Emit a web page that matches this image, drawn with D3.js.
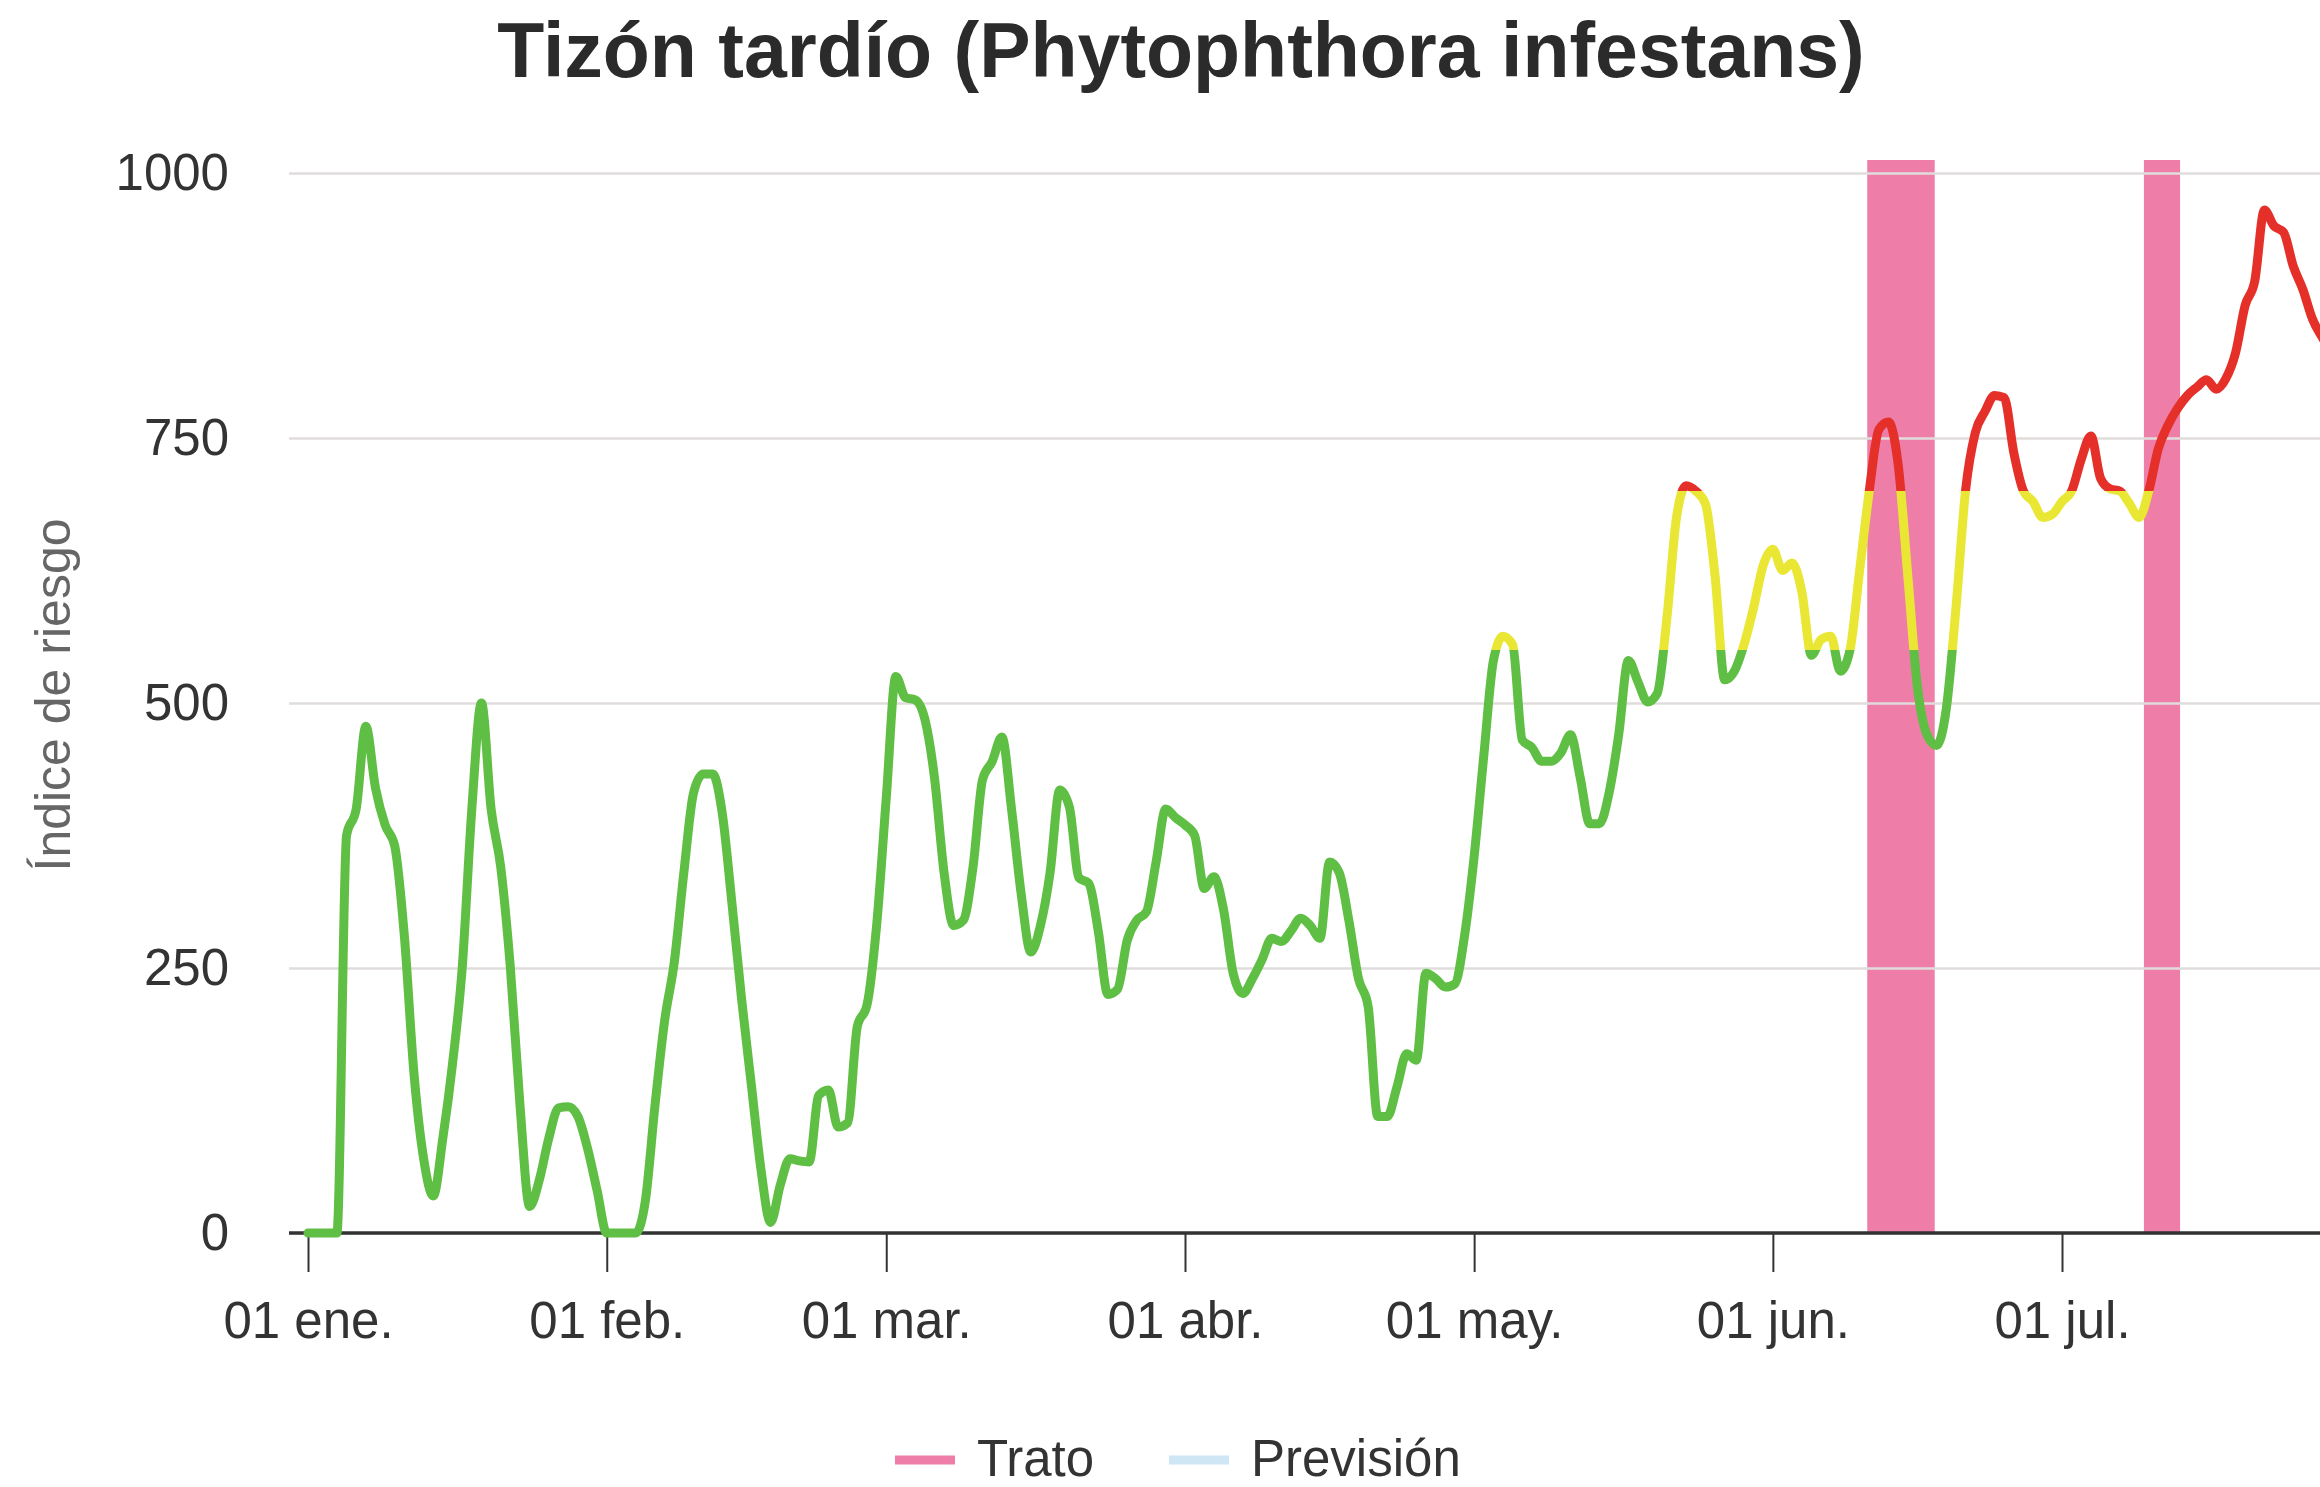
<!DOCTYPE html>
<html>
<head>
<meta charset="utf-8">
<script src="https://cdn.jsdelivr.net/npm/d3@7"></script>
<style>
  html, body { margin: 0; padding: 0; background: #fff; }
  svg { display: block; font-family: "Liberation Sans", Arial, sans-serif; }
</style>
</head>
<body>
<div id="main"></div>
<script>
// data (one value per day from 01 ene. 2024)
const startDate = '2024-01-01';
const riskIndex = [
  0, 0, 0, 0, 375, 400, 478, 420, 385, 365,
  280, 150, 70, 35, 90, 160, 250, 400, 500, 400,
  345, 250, 120, 25, 50, 90, 118, 119, 110, 80,
  40, 0, 0, 0, 0, 30, 120, 200, 255, 340,
  415, 433, 433, 395, 310, 220, 140, 60, 10, 45,
  70, 68, 67, 130, 135, 100, 104, 195, 215, 290,
  410, 525, 505, 503, 485, 430, 340, 290, 295, 345,
  428, 445, 468, 400, 320, 265, 290, 340, 418, 402,
  335, 330, 285, 225, 230, 276, 295, 303, 350, 400,
  392, 385, 375, 325, 336, 305, 245, 226, 240, 258,
  278, 275, 285, 297, 290, 278, 350, 340, 295, 240,
  214, 110, 110, 138, 169, 163, 245, 240, 232, 235,
  280, 355, 450, 540, 563, 555, 465, 458, 445, 445,
  453, 470, 430, 386, 386, 415, 470, 540, 520, 501,
  509, 580, 675, 705, 700, 688, 620, 522, 530, 555,
  590, 630, 645, 625, 632, 605, 545, 560, 563, 530,
  550, 625, 700, 758, 765, 725, 620, 515, 470, 460,
  495, 590, 701, 755, 775, 790, 788, 736, 700, 690,
  675, 678, 690, 700, 730, 752, 712, 702, 700, 688,
  675, 700, 740, 762, 778, 790, 798, 805, 796, 806,
  830, 875, 898, 965, 950, 944, 912, 890, 862, 845,
  830
];
const treatmentStart = ['2024-06-10 19:00', '2024-07-09 12:00'];
const treatmentEnd = ['2024-06-17 19:00', '2024-07-13 06:00'];
const yTicks = [0, 250, 500, 750, 1000];
const xTickStart = '2024-01-01';
const xTickEnd = '2024-08-01';
const shortMonths = ['ene.', 'feb.', 'mar.', 'abr.', 'may.', 'jun.', 'jul.', 'ago.', 'sep.', 'oct.', 'nov.', 'dic.'];
const zoneLimits = [550, 700];
const zoneColors = ['#5fbe44', '#e9e733', '#e5302a'];
const legendNames = ['Trato', 'Previsión'];
const legendColors = ['#ee7ea7', '#cfe6f4'];

// layout
const width = 2320;
const height = 1487;
const plot = { left: 289, right: 2330, top: 160, bottom: 1233 };
const fontSize = 51;

const parseDay = d3.timeParse('%Y-%m-%d');
const parseTime = d3.timeParse('%Y-%m-%d %H:%M');
const day0 = parseDay(startDate);
const series = riskIndex.map((v, i) => ({ date: d3.timeDay.offset(day0, i), value: v }));
const treatments = treatmentStart.map((s, i) => ({ start: parseTime(s), end: parseTime(treatmentEnd[i]) }));

const locale = d3.timeFormatLocale({
  dateTime: '%x, %X', date: '%d/%m/%Y', time: '%H:%M:%S', periods: ['AM', 'PM'],
  days: ['domingo', 'lunes', 'martes', 'miércoles', 'jueves', 'viernes', 'sábado'],
  shortDays: ['dom', 'lun', 'mar', 'mié', 'jue', 'vie', 'sáb'],
  months: ['enero', 'febrero', 'marzo', 'abril', 'mayo', 'junio', 'julio', 'agosto', 'septiembre', 'octubre', 'noviembre', 'diciembre'],
  shortMonths: shortMonths
});
const formatTick = locale.format('%d %b');

const xScale = d3.scaleTime()
  .domain([parseDay('2024-01-01'), parseDay('2024-07-01')])
  .range([308, 2062]);

const yScale = d3.scaleLinear()
  .domain([0, 1000])
  .range([plot.bottom, 173]);

const svg = d3.select('#main')
  .append('svg')
  .attr('width', width)
  .attr('height', height);

svg.append('defs').append('clipPath')
  .attr('id', 'plot-clip')
  .append('rect')
  .attr('x', plot.left)
  .attr('y', 0)
  .attr('width', plot.right - plot.left)
  .attr('height', plot.bottom + 10);

// title
svg.append('text')
  .attr('x', 1181)
  .attr('y', 77)
  .attr('text-anchor', 'middle')
  .attr('font-size', 77)
  .attr('font-weight', 'bold')
  .attr('fill', '#2b2b2b')
  .text('Tizón tardío (Phytophthora infestans)');

// treatment bars
svg.append('g')
  .attr('clip-path', 'url(#plot-clip)')
  .selectAll('rect')
  .data(treatments)
  .join('rect')
  .attr('x', (d) => xScale(d.start))
  .attr('width', (d) => xScale(d.end) - xScale(d.start))
  .attr('y', plot.top)
  .attr('height', plot.bottom - plot.top)
  .attr('fill', legendColors[0]);

// y grid + labels
const yAxis = svg.append('g')
  .attr('transform', `translate(${plot.left}, 0)`)
  .call(d3.axisLeft(yScale).tickValues(yTicks).tickFormat(d3.format('d'))
    .tickSize(-(plot.right - plot.left)).tickPadding(60));
yAxis.select('.domain').remove();
yAxis.selectAll('.tick line')
  .attr('stroke', '#e0dcdc')
  .attr('stroke-width', 2.5);
yAxis.selectAll('.tick text')
  .attr('font-size', fontSize)
  .attr('fill', '#333')
  .attr('font-family', '"Liberation Sans", Arial, sans-serif');

svg.append('text')
  .attr('transform', `translate(70, ${(plot.bottom + 173) / 2 - 8}) rotate(-90)`)
  .attr('text-anchor', 'middle')
  .attr('font-size', 50)
  .attr('fill', '#666')
  .text('Índice de riesgo');

// x axis
const monthTicks = d3.timeMonth.range(parseDay(xTickStart), parseDay(xTickEnd));
const xAxis = svg.append('g')
  .attr('transform', `translate(0, ${plot.bottom})`)
  .call(d3.axisBottom(xScale).tickValues(monthTicks).tickFormat(formatTick)
    .tickSize(39).tickPadding(30).tickSizeOuter(0));
xAxis.select('.domain').remove();
xAxis.selectAll('.tick line')
  .attr('stroke', '#333')
  .attr('stroke-width', 2);
xAxis.selectAll('.tick text')
  .attr('font-size', fontSize)
  .attr('fill', '#333')
  .attr('font-family', '"Liberation Sans", Arial, sans-serif');
xAxis.selectAll('.tick').filter((d) => xScale(d) > width).remove();

svg.append('line')
  .attr('x1', plot.left)
  .attr('x2', width)
  .attr('y1', plot.bottom)
  .attr('y2', plot.bottom)
  .attr('stroke', '#333')
  .attr('stroke-width', 3.5);

// risk line, coloured by zones
const grad = svg.select('defs').append('linearGradient')
  .attr('id', 'risk-zones')
  .attr('gradientUnits', 'userSpaceOnUse')
  .attr('x1', 0).attr('x2', 0)
  .attr('y1', yScale(0)).attr('y2', yScale(1000));
const stops = [
  [0, zoneColors[0]],
  [zoneLimits[0] / 1000, zoneColors[0]],
  [zoneLimits[0] / 1000, zoneColors[1]],
  [zoneLimits[1] / 1000, zoneColors[1]],
  [zoneLimits[1] / 1000, zoneColors[2]],
  [1, zoneColors[2]]
];
grad.selectAll('stop')
  .data(stops)
  .join('stop')
  .attr('offset', (d) => d[0])
  .attr('stop-color', (d) => d[1]);

const line = d3.line()
  .x((d) => xScale(d.date))
  .y((d) => yScale(d.value))
  .curve(d3.curveMonotoneX);

svg.append('path')
  .datum(series)
  .attr('clip-path', 'url(#plot-clip)')
  .attr('d', line)
  .attr('fill', 'none')
  .attr('stroke', 'url(#risk-zones)')
  .attr('stroke-width', 9)
  .attr('stroke-linejoin', 'round')
  .attr('stroke-linecap', 'round');

// legend
const legendX = [895, 1169];
const legend = svg.append('g')
  .selectAll('g')
  .data(legendNames)
  .join('g')
  .attr('transform', (d, i) => `translate(${legendX[i]}, 1460)`);
legend.append('line')
  .attr('x1', 0).attr('x2', 60)
  .attr('stroke', (d, i) => legendColors[i])
  .attr('stroke-width', 9);
legend.append('text')
  .attr('x', 82)
  .attr('y', 16)
  .attr('font-size', 51)
  .attr('fill', '#333')
  .text((d) => d);
</script>
</body>
</html>
